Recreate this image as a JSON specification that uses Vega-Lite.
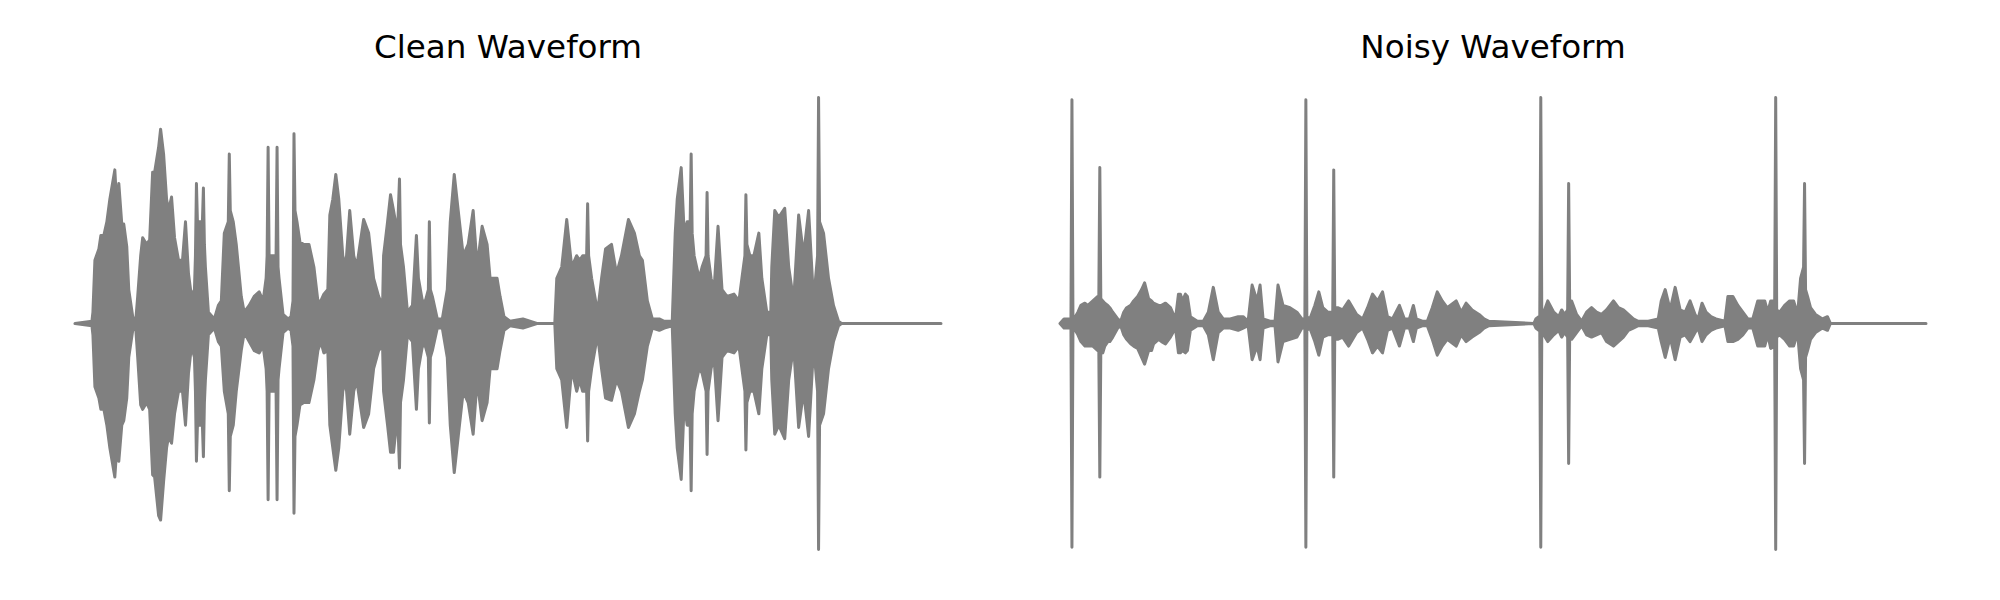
{
  "$schema": "https://vega.github.io/schema/vega-lite/v6.json",
  "background": "white",
  "padding": {"left": 73, "top": 32, "right": 5, "bottom": 5},
  "spacing": 115,
  "config": {
    "view": {"stroke": null},
    "title": {"font": "DejaVu Sans", "fontSize": 32.6, "fontWeight": "normal", "color": "#000000", "anchor": "middle", "offset": 10}
  },
  "datasets": {
    "clean": [
      {"frame":0,"upper":0,"lower":0},{"frame":17,"upper":0.01,"lower":-0.01},{"frame":18,"upper":0.05,"lower":-0.05},{"frame":20,"upper":0.28,"lower":-0.28},{"frame":24,"upper":0.33,"lower":-0.33},{"frame":26,"upper":0.39,"lower":-0.38},{"frame":29,"upper":0.39,"lower":-0.38},{"frame":32,"upper":0.45,"lower":-0.45},{"frame":35,"upper":0.55,"lower":-0.55},{"frame":40,"upper":0.68,"lower":-0.68},{"frame":42,"upper":0.52,"lower":-0.55},{"frame":44,"upper":0.62,"lower":-0.61},{"frame":47,"upper":0.44,"lower":-0.45},{"frame":49,"upper":0.44,"lower":-0.43},{"frame":52,"upper":0.34,"lower":-0.33},{"frame":54,"upper":0.15,"lower":-0.15},{"frame":58,"upper":0.03,"lower":-0.03},{"frame":61,"upper":0.01,"lower":-0.02},{"frame":63,"upper":0.12,"lower":-0.15},{"frame":66,"upper":0.30,"lower":-0.36},{"frame":68,"upper":0.38,"lower":-0.38},{"frame":72,"upper":0.35,"lower":-0.35},{"frame":75,"upper":0.37,"lower":-0.38},{"frame":78,"upper":0.67,"lower":-0.67},{"frame":80,"upper":0.67,"lower":-0.68},{"frame":84,"upper":0.78,"lower":-0.85},{"frame":86,"upper":0.86,"lower":-0.87},{"frame":89,"upper":0.75,"lower":-0.70},{"frame":92,"upper":0.55,"lower":-0.55},{"frame":94,"upper":0.50,"lower":-0.50},{"frame":97,"upper":0.56,"lower":-0.53},{"frame":100,"upper":0.38,"lower":-0.40},{"frame":104,"upper":0.28,"lower":-0.30},{"frame":108,"upper":0.28,"lower":-0.30},{"frame":111,"upper":0.45,"lower":-0.45},{"frame":114,"upper":0.22,"lower":-0.22},{"frame":117,"upper":0.12,"lower":-0.10},{"frame":120,"upper":0.15,"lower":-0.15},{"frame":121,"upper":0.30,"lower":-0.30},{"frame":122,"upper":0.62,"lower":-0.61},{"frame":123,"upper":0.45,"lower":-0.45},{"frame":125,"upper":0.45,"lower":-0.45},{"frame":128,"upper":0.45,"lower":-0.45},{"frame":129,"upper":0.60,"lower":-0.59},{"frame":130,"upper":0.35,"lower":-0.35},{"frame":131,"upper":0.25,"lower":-0.25},{"frame":134,"upper":0.05,"lower":-0.05},{"frame":140,"upper":0.02,"lower":-0.02},{"frame":144,"upper":0.08,"lower":-0.08},{"frame":147,"upper":0.10,"lower":-0.10},{"frame":150,"upper":0.40,"lower":-0.30},{"frame":154,"upper":0.45,"lower":-0.40},{"frame":155,"upper":0.75,"lower":-0.74},{"frame":156,"upper":0.50,"lower":-0.50},{"frame":159,"upper":0.45,"lower":-0.45},{"frame":162,"upper":0.35,"lower":-0.30},{"frame":167,"upper":0.12,"lower":-0.12},{"frame":170,"upper":0.05,"lower":-0.04},{"frame":175,"upper":0.08,"lower":-0.08},{"frame":180,"upper":0.12,"lower":-0.12},{"frame":185,"upper":0.14,"lower":-0.13},{"frame":189,"upper":0.10,"lower":-0.10},{"frame":192,"upper":0.20,"lower":-0.20},{"frame":193,"upper":0.30,"lower":-0.30},{"frame":194,"upper":0.78,"lower":-0.78},{"frame":195,"upper":0.30,"lower":-0.30},{"frame":198,"upper":0.30,"lower":-0.30},{"frame":202,"upper":0.30,"lower":-0.30},{"frame":203,"upper":0.78,"lower":-0.78},{"frame":204,"upper":0.25,"lower":-0.25},{"frame":205,"upper":0.20,"lower":-0.20},{"frame":209,"upper":0.04,"lower":-0.04},{"frame":214,"upper":0.02,"lower":-0.02},{"frame":217,"upper":0.03,"lower":-0.03},{"frame":219,"upper":0.10,"lower":-0.10},{"frame":220,"upper":0.84,"lower":-0.84},{"frame":221,"upper":0.50,"lower":-0.50},{"frame":223,"upper":0.45,"lower":-0.45},{"frame":226,"upper":0.36,"lower":-0.36},{"frame":230,"upper":0.35,"lower":-0.35},{"frame":235,"upper":0.35,"lower":-0.35},{"frame":240,"upper":0.25,"lower":-0.25},{"frame":244,"upper":0.10,"lower":-0.12},{"frame":247,"upper":0.10,"lower":-0.08},{"frame":250,"upper":0.13,"lower":-0.13},{"frame":254,"upper":0.15,"lower":-0.12},{"frame":256,"upper":0.48,"lower":-0.45},{"frame":259,"upper":0.55,"lower":-0.55},{"frame":262,"upper":0.66,"lower":-0.65},{"frame":265,"upper":0.55,"lower":-0.55},{"frame":269,"upper":0.30,"lower":-0.30},{"frame":272,"upper":0.25,"lower":-0.25},{"frame":276,"upper":0.50,"lower":-0.49},{"frame":280,"upper":0.30,"lower":-0.30},{"frame":283,"upper":0.25,"lower":-0.25},{"frame":290,"upper":0.46,"lower":-0.46},{"frame":295,"upper":0.40,"lower":-0.40},{"frame":300,"upper":0.20,"lower":-0.20},{"frame":305,"upper":0.12,"lower":-0.12},{"frame":309,"upper":0.08,"lower":-0.10},{"frame":310,"upper":0.30,"lower":-0.30},{"frame":314,"upper":0.45,"lower":-0.45},{"frame":317,"upper":0.57,"lower":-0.57},{"frame":320,"upper":0.50,"lower":-0.57},{"frame":324,"upper":0.40,"lower":-0.40},{"frame":326,"upper":0.64,"lower":-0.64},{"frame":327,"upper":0.35,"lower":-0.35},{"frame":330,"upper":0.25,"lower":-0.25},{"frame":334,"upper":0.05,"lower":-0.05},{"frame":339,"upper":0.08,"lower":-0.08},{"frame":343,"upper":0.39,"lower":-0.38},{"frame":345,"upper":0.20,"lower":-0.20},{"frame":349,"upper":0.10,"lower":-0.10},{"frame":352,"upper":0.10,"lower":-0.10},{"frame":355,"upper":0.15,"lower":-0.15},{"frame":356,"upper":0.45,"lower":-0.44},{"frame":357,"upper":0.15,"lower":-0.15},{"frame":359,"upper":0.12,"lower":-0.12},{"frame":364,"upper":0.02,"lower":-0.02},{"frame":369,"upper":0.02,"lower":-0.02},{"frame":374,"upper":0.15,"lower":-0.15},{"frame":377,"upper":0.45,"lower":-0.45},{"frame":381,"upper":0.66,"lower":-0.66},{"frame":385,"upper":0.50,"lower":-0.50},{"frame":390,"upper":0.30,"lower":-0.30},{"frame":395,"upper":0.35,"lower":-0.35},{"frame":400,"upper":0.50,"lower":-0.49},{"frame":404,"upper":0.25,"lower":-0.25},{"frame":409,"upper":0.43,"lower":-0.43},{"frame":414,"upper":0.35,"lower":-0.35},{"frame":417,"upper":0.20,"lower":-0.20},{"frame":424,"upper":0.20,"lower":-0.20},{"frame":427,"upper":0.12,"lower":-0.12},{"frame":431,"upper":0.03,"lower":-0.03},{"frame":437,"upper":0.01,"lower":-0.01},{"frame":450,"upper":0.02,"lower":-0.02},{"frame":457,"upper":0.01,"lower":-0.01},{"frame":464,"upper":0,"lower":0},{"frame":482,"upper":0,"lower":0},{"frame":484,"upper":0.20,"lower":-0.20},{"frame":489,"upper":0.25,"lower":-0.25},{"frame":494,"upper":0.46,"lower":-0.46},{"frame":499,"upper":0.25,"lower":-0.20},{"frame":504,"upper":0.30,"lower":-0.30},{"frame":507,"upper":0.28,"lower":-0.25},{"frame":510,"upper":0.30,"lower":-0.30},{"frame":514,"upper":0.30,"lower":-0.30},{"frame":515,"upper":0.53,"lower":-0.52},{"frame":516,"upper":0.30,"lower":-0.30},{"frame":519,"upper":0.20,"lower":-0.20},{"frame":525,"upper":0.05,"lower":-0.05},{"frame":529,"upper":0.20,"lower":-0.20},{"frame":533,"upper":0.33,"lower":-0.33},{"frame":539,"upper":0.35,"lower":-0.34},{"frame":544,"upper":0.22,"lower":-0.25},{"frame":549,"upper":0.30,"lower":-0.30},{"frame":556,"upper":0.46,"lower":-0.46},{"frame":562,"upper":0.40,"lower":-0.40},{"frame":567,"upper":0.30,"lower":-0.30},{"frame":570,"upper":0.28,"lower":-0.25},{"frame":575,"upper":0.10,"lower":-0.10},{"frame":580,"upper":0.02,"lower":-0.02},{"frame":587,"upper":0.02,"lower":-0.03},{"frame":592,"upper":0.01,"lower":-0.02},{"frame":600,"upper":0.01,"lower":-0.01},{"frame":603,"upper":0.40,"lower":-0.40},{"frame":605,"upper":0.55,"lower":-0.55},{"frame":609,"upper":0.69,"lower":-0.69},{"frame":612,"upper":0.40,"lower":-0.35},{"frame":615,"upper":0.45,"lower":-0.45},{"frame":618,"upper":0.45,"lower":-0.45},{"frame":619,"upper":0.75,"lower":-0.74},{"frame":620,"upper":0.40,"lower":-0.40},{"frame":622,"upper":0.30,"lower":-0.30},{"frame":627,"upper":0.20,"lower":-0.20},{"frame":630,"upper":0.25,"lower":-0.22},{"frame":634,"upper":0.30,"lower":-0.30},{"frame":635,"upper":0.58,"lower":-0.58},{"frame":636,"upper":0.30,"lower":-0.30},{"frame":639,"upper":0.20,"lower":-0.20},{"frame":642,"upper":0.15,"lower":-0.15},{"frame":646,"upper":0.43,"lower":-0.43},{"frame":650,"upper":0.15,"lower":-0.15},{"frame":655,"upper":0.12,"lower":-0.12},{"frame":662,"upper":0.13,"lower":-0.13},{"frame":667,"upper":0.10,"lower":-0.10},{"frame":670,"upper":0.20,"lower":-0.20},{"frame":673,"upper":0.30,"lower":-0.30},{"frame":674,"upper":0.57,"lower":-0.56},{"frame":675,"upper":0.35,"lower":-0.35},{"frame":678,"upper":0.30,"lower":-0.30},{"frame":682,"upper":0.30,"lower":-0.30},{"frame":687,"upper":0.40,"lower":-0.40},{"frame":690,"upper":0.20,"lower":-0.20},{"frame":695,"upper":0.05,"lower":-0.05},{"frame":699,"upper":0.05,"lower":-0.05},{"frame":700,"upper":0.25,"lower":-0.25},{"frame":703,"upper":0.50,"lower":-0.49},{"frame":707,"upper":0.47,"lower":-0.45},{"frame":713,"upper":0.51,"lower":-0.51},{"frame":717,"upper":0.25,"lower":-0.25},{"frame":722,"upper":0.10,"lower":-0.10},{"frame":727,"upper":0.48,"lower":-0.46},{"frame":732,"upper":0.30,"lower":-0.30},{"frame":737,"upper":0.50,"lower":-0.50},{"frame":742,"upper":0.10,"lower":-0.10},{"frame":746,"upper":0.30,"lower":-0.30},{"frame":747,"upper":1.00,"lower":-1.00},{"frame":748,"upper":0.45,"lower":-0.45},{"frame":752,"upper":0.40,"lower":-0.40},{"frame":757,"upper":0.20,"lower":-0.20},{"frame":762,"upper":0.08,"lower":-0.08},{"frame":767,"upper":0.01,"lower":-0.01},{"frame":770,"upper":0,"lower":0},{"frame":870,"upper":0,"lower":0}
    ],
    "noisy": [
      {"frame":0,"upper":0,"lower":0},{"frame":4,"upper":0.02,"lower":-0.02},{"frame":9,"upper":0.02,"lower":-0.02},{"frame":11,"upper":0.02,"lower":-0.02},{"frame":12,"upper":0.99,"lower":-0.99},{"frame":13,"upper":0.03,"lower":-0.03},{"frame":14,"upper":0.02,"lower":-0.02},{"frame":18,"upper":0.05,"lower":-0.05},{"frame":21,"upper":0.08,"lower":-0.08},{"frame":25,"upper":0.09,"lower":-0.10},{"frame":28,"upper":0.08,"lower":-0.10},{"frame":33,"upper":0.10,"lower":-0.10},{"frame":38,"upper":0.12,"lower":-0.12},{"frame":39,"upper":0.12,"lower":-0.12},{"frame":40,"upper":0.69,"lower":-0.68},{"frame":41,"upper":0.11,"lower":-0.12},{"frame":43,"upper":0.10,"lower":-0.13},{"frame":45,"upper":0.09,"lower":-0.10},{"frame":48,"upper":0.08,"lower":-0.08},{"frame":50,"upper":0.07,"lower":-0.08},{"frame":53,"upper":0.05,"lower":-0.06},{"frame":58,"upper":0.02,"lower":-0.02},{"frame":61,"upper":0.01,"lower":-0.01},{"frame":64,"upper":0.05,"lower":-0.05},{"frame":67,"upper":0.07,"lower":-0.07},{"frame":71,"upper":0.08,"lower":-0.09},{"frame":74,"upper":0.10,"lower":-0.10},{"frame":78,"upper":0.12,"lower":-0.11},{"frame":82,"upper":0.15,"lower":-0.15},{"frame":85,"upper":0.18,"lower":-0.18},{"frame":89,"upper":0.11,"lower":-0.12},{"frame":92,"upper":0.10,"lower":-0.12},{"frame":94,"upper":0.09,"lower":-0.09},{"frame":99,"upper":0.08,"lower":-0.07},{"frame":102,"upper":0.08,"lower":-0.08},{"frame":106,"upper":0.09,"lower":-0.09},{"frame":111,"upper":0.07,"lower":-0.06},{"frame":116,"upper":0.02,"lower":-0.02},{"frame":119,"upper":0.13,"lower":-0.13},{"frame":121,"upper":0.13,"lower":-0.13},{"frame":123,"upper":0.10,"lower":-0.12},{"frame":126,"upper":0.13,"lower":-0.13},{"frame":128,"upper":0.12,"lower":-0.12},{"frame":131,"upper":0.03,"lower":-0.03},{"frame":138,"upper":0.01,"lower":-0.01},{"frame":144,"upper":0.01,"lower":-0.01},{"frame":149,"upper":0.05,"lower":-0.05},{"frame":154,"upper":0.16,"lower":-0.16},{"frame":159,"upper":0.05,"lower":-0.04},{"frame":164,"upper":0.02,"lower":-0.02},{"frame":171,"upper":0.02,"lower":-0.02},{"frame":179,"upper":0.03,"lower":-0.03},{"frame":184,"upper":0.03,"lower":-0.02},{"frame":189,"upper":0.01,"lower":-0.01},{"frame":193,"upper":0.17,"lower":-0.16},{"frame":198,"upper":0.10,"lower":-0.10},{"frame":201,"upper":0.17,"lower":-0.16},{"frame":204,"upper":0.02,"lower":-0.02},{"frame":211,"upper":0.01,"lower":-0.01},{"frame":216,"upper":0.01,"lower":-0.01},{"frame":219,"upper":0.17,"lower":-0.17},{"frame":224,"upper":0.08,"lower":-0.08},{"frame":231,"upper":0.07,"lower":-0.07},{"frame":238,"upper":0.05,"lower":-0.06},{"frame":243,"upper":0.02,"lower":-0.02},{"frame":246,"upper":0.02,"lower":-0.02},{"frame":247,"upper":0.99,"lower":-0.99},{"frame":248,"upper":0.03,"lower":-0.03},{"frame":251,"upper":0.02,"lower":-0.02},{"frame":256,"upper":0.08,"lower":-0.08},{"frame":260,"upper":0.14,"lower":-0.14},{"frame":264,"upper":0.07,"lower":-0.06},{"frame":269,"upper":0.05,"lower":-0.05},{"frame":274,"upper":0.05,"lower":-0.05},{"frame":275,"upper":0.68,"lower":-0.68},{"frame":276,"upper":0.07,"lower":-0.07},{"frame":279,"upper":0.07,"lower":-0.07},{"frame":284,"upper":0.06,"lower":-0.06},{"frame":290,"upper":0.10,"lower":-0.10},{"frame":298,"upper":0.04,"lower":-0.04},{"frame":304,"upper":0.02,"lower":-0.02},{"frame":309,"upper":0.07,"lower":-0.07},{"frame":314,"upper":0.13,"lower":-0.13},{"frame":319,"upper":0.10,"lower":-0.10},{"frame":324,"upper":0.14,"lower":-0.13},{"frame":329,"upper":0.03,"lower":-0.03},{"frame":334,"upper":0.02,"lower":-0.02},{"frame":341,"upper":0.08,"lower":-0.10},{"frame":346,"upper":0.02,"lower":-0.02},{"frame":351,"upper":0.02,"lower":-0.02},{"frame":355,"upper":0.08,"lower":-0.08},{"frame":358,"upper":0.02,"lower":-0.02},{"frame":364,"upper":0.01,"lower":-0.01},{"frame":369,"upper":0.01,"lower":-0.01},{"frame":374,"upper":0.07,"lower":-0.07},{"frame":379,"upper":0.14,"lower":-0.14},{"frame":384,"upper":0.10,"lower":-0.10},{"frame":389,"upper":0.07,"lower":-0.07},{"frame":398,"upper":0.10,"lower":-0.10},{"frame":403,"upper":0.05,"lower":-0.05},{"frame":408,"upper":0.09,"lower":-0.08},{"frame":414,"upper":0.06,"lower":-0.06},{"frame":421,"upper":0.04,"lower":-0.04},{"frame":426,"upper":0.02,"lower":-0.02},{"frame":431,"upper":0.01,"lower":-0.01},{"frame":476,"upper":0,"lower":0},{"frame":478,"upper":0.02,"lower":-0.02},{"frame":481,"upper":0.03,"lower":-0.03},{"frame":482,"upper":0.03,"lower":-0.03},{"frame":483,"upper":1.00,"lower":-0.99},{"frame":484,"upper":0.04,"lower":-0.04},{"frame":486,"upper":0.05,"lower":-0.05},{"frame":490,"upper":0.10,"lower":-0.08},{"frame":496,"upper":0.05,"lower":-0.05},{"frame":501,"upper":0.03,"lower":-0.03},{"frame":504,"upper":0.06,"lower":-0.06},{"frame":507,"upper":0.04,"lower":-0.04},{"frame":510,"upper":0.06,"lower":-0.06},{"frame":511,"upper":0.62,"lower":-0.62},{"frame":512,"upper":0.10,"lower":-0.07},{"frame":514,"upper":0.10,"lower":-0.07},{"frame":519,"upper":0.04,"lower":-0.04},{"frame":524,"upper":0.01,"lower":-0.01},{"frame":529,"upper":0.05,"lower":-0.05},{"frame":534,"upper":0.07,"lower":-0.06},{"frame":539,"upper":0.05,"lower":-0.05},{"frame":544,"upper":0.04,"lower":-0.04},{"frame":549,"upper":0.06,"lower":-0.08},{"frame":556,"upper":0.10,"lower":-0.10},{"frame":561,"upper":0.07,"lower":-0.08},{"frame":566,"upper":0.06,"lower":-0.06},{"frame":571,"upper":0.04,"lower":-0.03},{"frame":576,"upper":0.02,"lower":-0.02},{"frame":581,"upper":0.01,"lower":-0.01},{"frame":591,"upper":0.01,"lower":-0.01},{"frame":601,"upper":0.02,"lower":-0.02},{"frame":604,"upper":0.10,"lower":-0.08},{"frame":608,"upper":0.15,"lower":-0.15},{"frame":613,"upper":0.06,"lower":-0.06},{"frame":618,"upper":0.16,"lower":-0.16},{"frame":623,"upper":0.06,"lower":-0.06},{"frame":628,"upper":0.05,"lower":-0.05},{"frame":633,"upper":0.10,"lower":-0.08},{"frame":638,"upper":0.04,"lower":-0.04},{"frame":641,"upper":0.02,"lower":-0.02},{"frame":645,"upper":0.09,"lower":-0.08},{"frame":649,"upper":0.05,"lower":-0.05},{"frame":654,"upper":0.03,"lower":-0.03},{"frame":659,"upper":0.02,"lower":-0.02},{"frame":668,"upper":0.01,"lower":-0.01},{"frame":671,"upper":0.12,"lower":-0.08},{"frame":676,"upper":0.12,"lower":-0.08},{"frame":681,"upper":0.08,"lower":-0.07},{"frame":686,"upper":0.05,"lower":-0.05},{"frame":691,"upper":0.02,"lower":-0.02},{"frame":696,"upper":0.02,"lower":-0.02},{"frame":701,"upper":0.10,"lower":-0.10},{"frame":708,"upper":0.10,"lower":-0.10},{"frame":711,"upper":0.05,"lower":-0.05},{"frame":714,"upper":0.10,"lower":-0.11},{"frame":718,"upper":0.10,"lower":-0.10},{"frame":719,"upper":1.00,"lower":-1.00},{"frame":720,"upper":0.06,"lower":-0.06},{"frame":723,"upper":0.05,"lower":-0.05},{"frame":728,"upper":0.08,"lower":-0.07},{"frame":733,"upper":0.10,"lower":-0.10},{"frame":737,"upper":0.10,"lower":-0.10},{"frame":741,"upper":0.04,"lower":-0.04},{"frame":744,"upper":0.20,"lower":-0.20},{"frame":747,"upper":0.25,"lower":-0.25},{"frame":748,"upper":0.62,"lower":-0.62},{"frame":749,"upper":0.15,"lower":-0.15},{"frame":751,"upper":0.12,"lower":-0.12},{"frame":754,"upper":0.07,"lower":-0.07},{"frame":759,"upper":0.04,"lower":-0.04},{"frame":766,"upper":0.02,"lower":-0.02},{"frame":771,"upper":0.03,"lower":-0.03},{"frame":774,"upper":0,"lower":0},{"frame":870,"upper":0,"lower":0}
    ]
  },
  "hconcat": [
    {
      "title": "Clean Waveform",
      "data": {"name": "clean"},
      "width": 866,
      "height": 497,
      "mark": {"type": "area", "color": "#808080", "stroke": "#808080", "strokeWidth": 3, "strokeJoin": "round", "fillOpacity": 1},
      "encoding": {
        "x": {"field": "frame", "type": "quantitative", "scale": {"domain": [0, 870], "nice": false, "zero": false}, "axis": null},
        "y": {"field": "upper", "type": "quantitative", "scale": {"domain": [-1.1, 1.1], "nice": false}, "axis": null},
        "y2": {"field": "lower"}
      }
    },
    {
      "title": "Noisy Waveform",
      "data": {"name": "noisy"},
      "width": 866,
      "height": 497,
      "mark": {"type": "area", "color": "#808080", "stroke": "#808080", "strokeWidth": 3, "strokeJoin": "round", "fillOpacity": 1},
      "encoding": {
        "x": {"field": "frame", "type": "quantitative", "scale": {"domain": [0, 870], "nice": false, "zero": false}, "axis": null},
        "y": {"field": "upper", "type": "quantitative", "scale": {"domain": [-1.1, 1.1], "nice": false}, "axis": null},
        "y2": {"field": "lower"}
      }
    }
  ]
}
